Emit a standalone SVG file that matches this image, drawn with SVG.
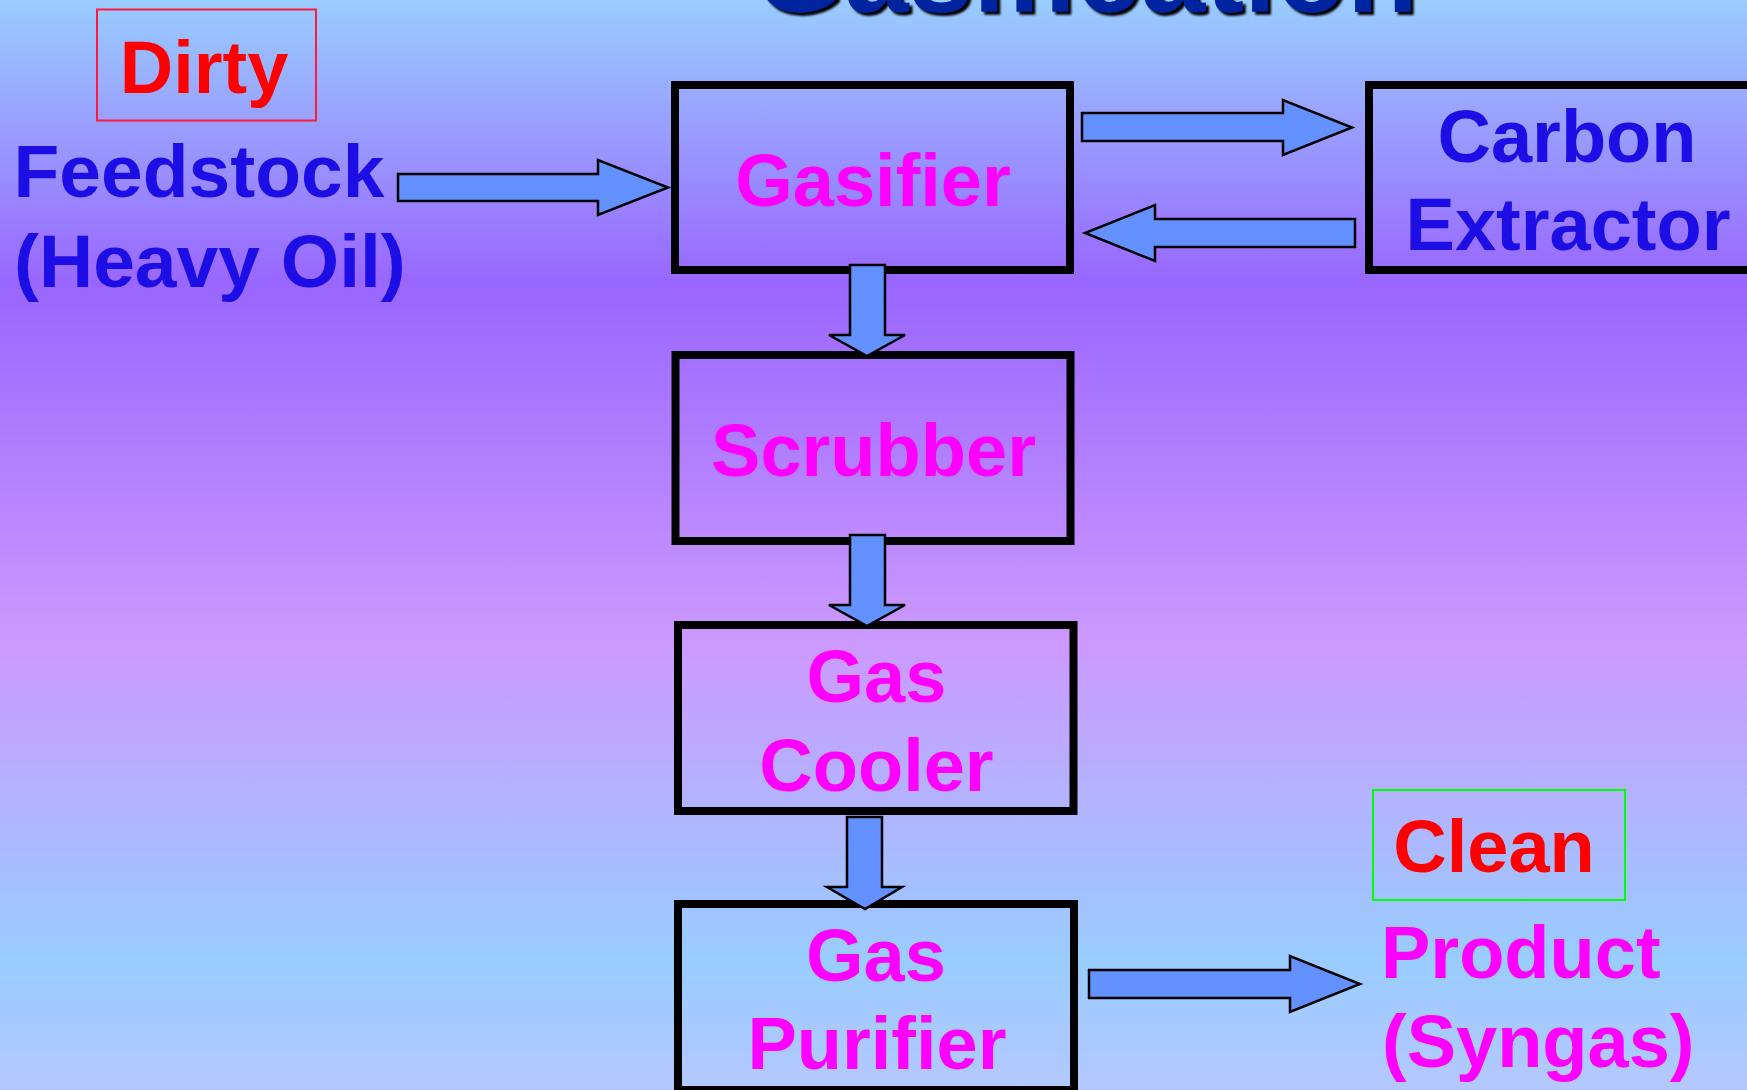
<svg xmlns="http://www.w3.org/2000/svg" width="1747" height="1090" viewBox="0 0 1747 1090">
  <defs>
    <linearGradient id="bg" x1="0" y1="0" x2="0" y2="1">
      <stop offset="0" stop-color="#99ccff"/>
      <stop offset="0.26" stop-color="#9966ff"/>
      <stop offset="0.59" stop-color="#cc99ff"/>
      <stop offset="0.88" stop-color="#99ccff"/>
      <stop offset="1" stop-color="#b4c8ff"/>
    </linearGradient>
    <filter id="soft" x="-5%" y="-50%" width="110%" height="200%">
      <feGaussianBlur stdDeviation="1.2"/>
    </filter>
  </defs>
  <style>
    text { font-family: "Liberation Sans", Arial, sans-serif; font-weight: bold; font-size: 74px; }
    .box { fill: none; stroke: #000; stroke-width: 8; }
    .arrow { fill: #6391ff; stroke: #000; stroke-width: 2.5; stroke-linejoin: miter; }
    .blue { fill: #1e0ee6; }
    .mag { fill: #ff00ff; }
    .red { fill: #ff0000; }
    .mid { text-anchor: middle; }
    .big { font-size: 75px; }
    .title { font-size: 116px; fill: #0024a0; }
  </style>

  <!-- background -->
  <rect x="0" y="0" width="1747" height="1090" fill="url(#bg)"/>

  <!-- title (mostly above the top edge) -->
  <g id="title">
    <text class="title mid" x="1089" y="14.5" style="fill:#000" filter="url(#soft)">Gasification</text>
    <text class="title mid" x="1086" y="11.5">Gasification</text>
  </g>

  <!-- labels -->
  <g id="dirty">
    <rect x="97" y="9.5" width="219" height="111" fill="none" stroke="#ff1a3c" stroke-width="2"/>
    <text class="red mid" x="204" y="92.5">Dirty</text>
  </g>
  <g id="feedstock">
    <text class="blue big" x="13.5" y="197">Feedstock</text>
    <text class="blue big" x="14" y="287">(Heavy Oil)</text>
  </g>
  <g id="clean">
    <rect x="1373" y="790" width="252" height="110" fill="none" stroke="#00ff00" stroke-width="2"/>
    <text class="red mid" x="1494" y="872">Clean</text>
  </g>
  <g id="product">
    <text class="mag" x="1381" y="978">Product</text>
    <text class="mag" x="1382" y="1067">(Syngas)</text>
  </g>

  <!-- process units -->
  <g id="gasifier">
    <rect class="box" x="675" y="85" width="395" height="185"/>
    <text class="mag mid" x="873" y="206">Gasifier</text>
  </g>
  <g id="carbon-extractor">
    <rect class="box" x="1369" y="85" width="395" height="185"/>
    <text class="blue mid" x="1567" y="162">Carbon</text>
    <text class="blue mid" x="1568" y="250">Extractor</text>
  </g>
  <g id="scrubber">
    <rect class="box" x="675.5" y="355" width="395" height="186"/>
    <text class="mag mid" x="873.5" y="476">Scrubber</text>
  </g>
  <g id="gas-cooler">
    <rect class="box" x="678" y="625" width="395.5" height="186"/>
    <text class="mag mid" x="876.5" y="702">Gas</text>
    <text class="mag mid" x="876.5" y="791">Cooler</text>
  </g>
  <g id="gas-purifier">
    <rect class="box" x="678" y="904" width="396" height="186"/>
    <text class="mag mid" x="876" y="981">Gas</text>
    <text class="mag mid" x="877" y="1069">Purifier</text>
  </g>

  <!-- block arrows -->
  <g id="connectors">
    <polygon class="arrow" points="398,174 598,174 598,160 668,187.5 598,215 598,201 398,201"/>
    <polygon class="arrow" points="1082,113 1283,113 1283,100 1352,127.5 1283,155 1283,141 1082,141"/>
    <polygon class="arrow" points="1355,219 1155,219 1155,205 1085,233 1155,261 1155,247 1355,247"/>
    <polygon class="arrow" points="850,265 885,265 885,335 905,335 867,356 829,335 850,335"/>
    <polygon class="arrow" points="850,535 885,535 885,605 905,605 867,626 829,605 850,605"/>
    <polygon class="arrow" points="847,817 882,817 882,887 902,887 865,909 827,887 847,887"/>
    <polygon class="arrow" points="1089,970 1290,970 1290,956 1360,984 1290,1012 1290,998 1089,998"/>
  </g>
</svg>
